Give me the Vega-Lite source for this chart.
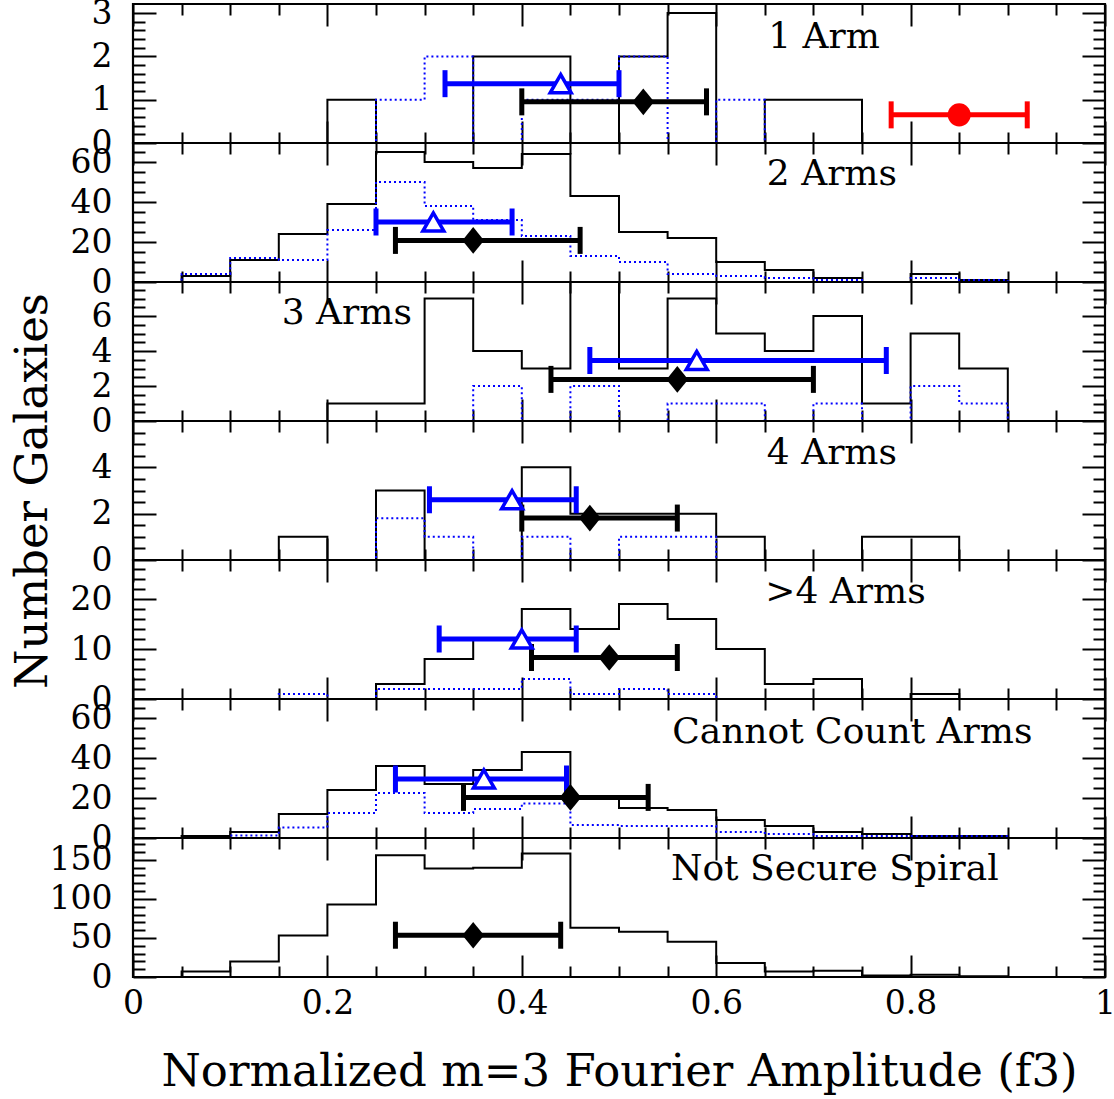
{
"$schema":"https://vega.github.io/schema/vega-lite/v6.json",
"padding":{"left":8,"top":-5,"right":0,"bottom":0},
"background":"white",
"spacing":0,
"bounds":"flush",
"config":{"view":{"stroke":"black","strokeWidth":2.2},"concat":{"spacing":0},
"axis":{"grid":false,"domain":false,"tickColor":"black","tickWidth":2,"labelFont":"DejaVu Serif","labelFontSize":33,"labelColor":"black","labelOverlap":false,"labelBound":false,"labelFlush":false,"titleFont":"DejaVu Serif","titleFontWeight":"normal","titleColor":"black","titleFontSize":45}},
"resolve":{"scale":{"x":"independent","y":"independent"}},
"datasets":{
"hist":[
{"p":1,"x":0,"a":0,"b":0},{"p":1,"x":0.05,"a":0,"b":0},{"p":1,"x":0.1,"a":0,"b":0},{"p":1,"x":0.15,"a":0,"b":0},{"p":1,"x":0.2,"a":1,"b":0},{"p":1,"x":0.25,"a":0,"b":1},{"p":1,"x":0.3,"a":0,"b":2},{"p":1,"x":0.35,"a":2,"b":0},{"p":1,"x":0.4,"a":2,"b":1},{"p":1,"x":0.45,"a":0,"b":1},{"p":1,"x":0.5,"a":2,"b":2},{"p":1,"x":0.55,"a":3,"b":0},{"p":1,"x":0.6,"a":0,"b":1},{"p":1,"x":0.65,"a":1,"b":0},{"p":1,"x":0.7,"a":1,"b":0},{"p":1,"x":0.75,"a":0,"b":0},{"p":1,"x":0.8,"a":0,"b":0},{"p":1,"x":0.85,"a":0,"b":0},{"p":1,"x":0.9,"a":0,"b":0},{"p":1,"x":0.95,"a":0,"b":0},{"p":1,"x":1,"a":0,"b":0},
{"p":2,"x":0,"a":0,"b":0},{"p":2,"x":0.05,"a":3,"b":4},{"p":2,"x":0.1,"a":11,"b":12},{"p":2,"x":0.15,"a":24,"b":11},{"p":2,"x":0.2,"a":39,"b":26},{"p":2,"x":0.25,"a":65,"b":50},{"p":2,"x":0.3,"a":60,"b":38},{"p":2,"x":0.35,"a":57,"b":31},{"p":2,"x":0.4,"a":64,"b":23},{"p":2,"x":0.45,"a":43,"b":13},{"p":2,"x":0.5,"a":25,"b":10},{"p":2,"x":0.55,"a":22,"b":4},{"p":2,"x":0.6,"a":10,"b":3},{"p":2,"x":0.65,"a":6,"b":2},{"p":2,"x":0.7,"a":2,"b":1},{"p":2,"x":0.75,"a":0,"b":0},{"p":2,"x":0.8,"a":4,"b":2},{"p":2,"x":0.85,"a":1,"b":1},{"p":2,"x":0.9,"a":0,"b":0},{"p":2,"x":0.95,"a":0,"b":0},{"p":2,"x":1,"a":0,"b":0},
{"p":3,"x":0,"a":0,"b":0},{"p":3,"x":0.05,"a":0,"b":0},{"p":3,"x":0.1,"a":0,"b":0},{"p":3,"x":0.15,"a":0,"b":0},{"p":3,"x":0.2,"a":1,"b":0},{"p":3,"x":0.25,"a":1,"b":0},{"p":3,"x":0.3,"a":7,"b":0},{"p":3,"x":0.35,"a":4,"b":2},{"p":3,"x":0.4,"a":3,"b":0},{"p":3,"x":0.45,"a":9,"b":2},{"p":3,"x":0.5,"a":3,"b":0},{"p":3,"x":0.55,"a":7,"b":1},{"p":3,"x":0.6,"a":5,"b":1},{"p":3,"x":0.65,"a":4,"b":0},{"p":3,"x":0.7,"a":6,"b":1},{"p":3,"x":0.75,"a":1,"b":0},{"p":3,"x":0.8,"a":5,"b":2},{"p":3,"x":0.85,"a":3,"b":1},{"p":3,"x":0.9,"a":0,"b":0},{"p":3,"x":0.95,"a":0,"b":0},{"p":3,"x":1,"a":0,"b":0},
{"p":4,"x":0,"a":0,"b":0},{"p":4,"x":0.05,"a":0,"b":0},{"p":4,"x":0.1,"a":0,"b":0},{"p":4,"x":0.15,"a":1,"b":0},{"p":4,"x":0.2,"a":0,"b":0},{"p":4,"x":0.25,"a":3,"b":1.8},{"p":4,"x":0.3,"a":0,"b":1},{"p":4,"x":0.35,"a":0,"b":0},{"p":4,"x":0.4,"a":4,"b":1},{"p":4,"x":0.45,"a":2,"b":0},{"p":4,"x":0.5,"a":2,"b":1},{"p":4,"x":0.55,"a":2,"b":1},{"p":4,"x":0.6,"a":1,"b":0},{"p":4,"x":0.65,"a":0,"b":0},{"p":4,"x":0.7,"a":0,"b":0},{"p":4,"x":0.75,"a":1,"b":0},{"p":4,"x":0.8,"a":1,"b":0},{"p":4,"x":0.85,"a":0,"b":0},{"p":4,"x":0.9,"a":0,"b":0},{"p":4,"x":0.95,"a":0,"b":0},{"p":4,"x":1,"a":0,"b":0},
{"p":5,"x":0,"a":0,"b":0},{"p":5,"x":0.05,"a":0,"b":0},{"p":5,"x":0.1,"a":0,"b":0},{"p":5,"x":0.15,"a":0,"b":1},{"p":5,"x":0.2,"a":0,"b":0},{"p":5,"x":0.25,"a":3,"b":2},{"p":5,"x":0.3,"a":8,"b":2},{"p":5,"x":0.35,"a":12,"b":2},{"p":5,"x":0.4,"a":18,"b":4},{"p":5,"x":0.45,"a":14,"b":1},{"p":5,"x":0.5,"a":19,"b":2},{"p":5,"x":0.55,"a":16,"b":1},{"p":5,"x":0.6,"a":10,"b":0},{"p":5,"x":0.65,"a":3,"b":0},{"p":5,"x":0.7,"a":4,"b":0},{"p":5,"x":0.75,"a":0,"b":0},{"p":5,"x":0.8,"a":1,"b":0},{"p":5,"x":0.85,"a":0,"b":0},{"p":5,"x":0.9,"a":0,"b":0},{"p":5,"x":0.95,"a":0,"b":0},{"p":5,"x":1,"a":0,"b":0},
{"p":6,"x":0,"a":0,"b":0},{"p":6,"x":0.05,"a":1,"b":0},{"p":6,"x":0.1,"a":3,"b":1.3},{"p":6,"x":0.15,"a":12,"b":5.3},{"p":6,"x":0.2,"a":24,"b":12.5},{"p":6,"x":0.25,"a":36,"b":22.5},{"p":6,"x":0.3,"a":27,"b":12.5},{"p":6,"x":0.35,"a":34,"b":14.5},{"p":6,"x":0.4,"a":43,"b":17.3},{"p":6,"x":0.45,"a":20,"b":6.5},{"p":6,"x":0.5,"a":15,"b":6},{"p":6,"x":0.55,"a":14,"b":6},{"p":6,"x":0.6,"a":9,"b":3},{"p":6,"x":0.65,"a":6,"b":2},{"p":6,"x":0.7,"a":3,"b":1},{"p":6,"x":0.75,"a":2,"b":1},{"p":6,"x":0.8,"a":1,"b":1},{"p":6,"x":0.85,"a":1,"b":1},{"p":6,"x":0.9,"a":0,"b":0},{"p":6,"x":0.95,"a":0,"b":0},{"p":6,"x":1,"a":0,"b":0},
{"p":7,"x":0,"a":0},{"p":7,"x":0.05,"a":7},{"p":7,"x":0.1,"a":20},{"p":7,"x":0.15,"a":53},{"p":7,"x":0.2,"a":93},{"p":7,"x":0.25,"a":156},{"p":7,"x":0.3,"a":139},{"p":7,"x":0.35,"a":140},{"p":7,"x":0.4,"a":158},{"p":7,"x":0.45,"a":63},{"p":7,"x":0.5,"a":58},{"p":7,"x":0.55,"a":45},{"p":7,"x":0.6,"a":18},{"p":7,"x":0.65,"a":7},{"p":7,"x":0.7,"a":8},{"p":7,"x":0.75,"a":2},{"p":7,"x":0.8,"a":3},{"p":7,"x":0.85,"a":1},{"p":7,"x":0.9,"a":0},{"p":7,"x":0.95,"a":0},{"p":7,"x":1,"a":0}
],
"err":[
{"p":1,"c":"b","y":1.37,"m":0.44,"lo":0.321,"hi":0.5},
{"p":1,"c":"k","y":0.95,"m":0.525,"lo":0.4,"hi":0.59},
{"p":1,"c":"r","y":0.65,"m":0.85,"lo":0.78,"hi":0.92},
{"p":2,"c":"b","y":30,"m":0.309,"lo":0.25,"hi":0.39},
{"p":2,"c":"k","y":20.8,"m":0.35,"lo":0.27,"hi":0.46},
{"p":3,"c":"b","y":3.46,"m":0.58,"lo":0.47,"hi":0.775},
{"p":3,"c":"k","y":2.38,"m":0.56,"lo":0.43,"hi":0.7},
{"p":4,"c":"b","y":2.6,"m":0.39,"lo":0.305,"hi":0.456},
{"p":4,"c":"k","y":1.81,"m":0.47,"lo":0.4,"hi":0.56},
{"p":5,"c":"b","y":12,"m":0.4,"lo":0.315,"hi":0.456},
{"p":5,"c":"k","y":8.3,"m":0.49,"lo":0.41,"hi":0.56},
{"p":6,"c":"b","y":29.5,"m":0.361,"lo":0.27,"hi":0.446},
{"p":6,"c":"k","y":20.3,"m":0.45,"lo":0.34,"hi":0.53},
{"p":7,"c":"k","y":53.5,"m":0.35,"lo":0.27,"hi":0.44}
],
"lab":[
{"p":1,"t":"1 Arm","x":0.711,"y":2.2},
{"p":2,"t":"2 Arms","x":0.719,"y":48.3},
{"p":3,"t":"3 Arms","x":0.22,"y":5.52},
{"p":4,"t":"4 Arms","x":0.719,"y":4.14},
{"p":5,"t":">4 Arms","x":0.733,"y":19.3},
{"p":6,"t":"Cannot Count Arms","x":0.74,"y":47.6},
{"p":7,"t":"Not Secure Spiral","x":0.722,"y":124}
]
},
"vconcat":[
{"width":972,"height":139,"resolve":{"axis":{"x":"independent","y":"independent"}},"layer":[
{"data":{"name":"hist"},"transform":[{"filter":"datum.p==1"}],"mark":{"type":"line","interpolate":"step-after","color":"black","strokeWidth":2,"clip":true},"encoding":{"x":{"field":"x","type":"quantitative","scale":{"domain":[0,1],"nice":false,"zero":false},"axis":{"orient":"bottom","title":null,"labels":false,"values":[0,0.05,0.1,0.15,0.2,0.25,0.3,0.35,0.4,0.45,0.5,0.55,0.6,0.65,0.7,0.75,0.8,0.85,0.9,0.95,1],"tickSize":{"condition":{"test":"abs(datum.value*5-round(datum.value*5))<1e-6","value":-22},"value":-11}}},"y":{"field":"a","type":"quantitative","scale":{"domain":[0,3.21],"nice":false,"zero":false},"axis":{"orient":"left","title":null,"values":[0,0.2,0.4,0.6,0.8,1,1.2,1.4,1.6,1.8,2,2.2,2.4,2.6,2.8,3],"labelPadding":44,"labelExpr":"abs(datum.value-round(datum.value))<1e-6 ? format(datum.value,'~g') : ''","tickSize":{"condition":{"test":"abs(datum.value-round(datum.value))<1e-6","value":-23},"value":-12}}}}},
{"data":{"name":"hist"},"transform":[{"filter":"datum.p==1"}],"mark":{"type":"line","interpolate":"step-after","color":"#0000ff","strokeWidth":2,"strokeDash":[2,3],"clip":true},"encoding":{"x":{"field":"x","type":"quantitative","axis":null},"y":{"field":"b","type":"quantitative","axis":null}}},
{"data":{"name":"err"},"transform":[{"filter":"datum.p==1"}],"mark":{"type":"rule","strokeWidth":5},"encoding":{"x":{"field":"lo","type":"quantitative","axis":{"orient":"top","title":null,"labels":false,"values":[0,0.05,0.1,0.15,0.2,0.25,0.3,0.35,0.4,0.45,0.5,0.55,0.6,0.65,0.7,0.75,0.8,0.85,0.9,0.95,1],"tickSize":{"condition":{"test":"abs(datum.value*5-round(datum.value*5))<1e-6","value":-22},"value":-11}}},"x2":{"field":"hi"},"y":{"field":"y","type":"quantitative","axis":{"orient":"right","title":null,"labels":false,"values":[0,0.2,0.4,0.6,0.8,1,1.2,1.4,1.6,1.8,2,2.2,2.4,2.6,2.8,3],"tickSize":{"condition":{"test":"abs(datum.value-round(datum.value))<1e-6","value":-23},"value":-12}}},"color":{"field":"c","type":"nominal","scale":{"domain":["k","b","r"],"range":["#000000","#0000ff","#ff0000"]},"legend":null}}},
{"data":{"name":"err"},"transform":[{"filter":"datum.p==1"}],"mark":{"type":"tick","orient":"vertical","size":27,"thickness":5,"opacity":1},"encoding":{"x":{"field":"lo","type":"quantitative","axis":null},"y":{"field":"y","type":"quantitative","axis":null},"color":{"field":"c","type":"nominal","scale":{"domain":["k","b","r"],"range":["#000000","#0000ff","#ff0000"]},"legend":null}}},
{"data":{"name":"err"},"transform":[{"filter":"datum.p==1"}],"mark":{"type":"tick","orient":"vertical","size":27,"thickness":5,"opacity":1},"encoding":{"x":{"field":"hi","type":"quantitative","axis":null},"y":{"field":"y","type":"quantitative","axis":null},"color":{"field":"c","type":"nominal","scale":{"domain":["k","b","r"],"range":["#000000","#0000ff","#ff0000"]},"legend":null}}},
{"data":{"name":"err"},"transform":[{"filter":"datum.p==1 && datum.c=='k'"}],"mark":{"type":"point","shape":"M0,-1.23L1,0L0,1.23L-1,0Z","size":470,"filled":true,"color":"black","opacity":1},"encoding":{"x":{"field":"m","type":"quantitative","axis":null},"y":{"field":"y","type":"quantitative","axis":null}}},
{"data":{"name":"err"},"transform":[{"filter":"datum.p==1 && datum.c=='b'"}],"mark":{"type":"point","shape":"triangle-up","size":440,"filled":true,"fill":"white","stroke":"#0000ff","strokeWidth":3.5,"opacity":1},"encoding":{"x":{"field":"m","type":"quantitative","axis":null},"y":{"field":"y","type":"quantitative","axis":null}}},
{"data":{"name":"err"},"transform":[{"filter":"datum.p==1 && datum.c=='r'"}],"mark":{"type":"point","shape":"circle","size":531,"filled":true,"color":"#ff0000","opacity":1},"encoding":{"x":{"field":"m","type":"quantitative","axis":null},"y":{"field":"y","type":"quantitative","axis":null}}},
{"data":{"name":"lab"},"transform":[{"filter":"datum.p==1"}],"mark":{"type":"text","font":"DejaVu Serif","fontSize":36,"align":"center","baseline":"alphabetic","color":"black"},"encoding":{"x":{"field":"x","type":"quantitative","axis":null},"y":{"field":"y","type":"quantitative","axis":null},"text":{"field":"t"}}}
]},
{"width":972,"height":139,"resolve":{"axis":{"x":"independent","y":"independent"}},"layer":[
{"data":{"name":"hist"},"transform":[{"filter":"datum.p==2"}],"mark":{"type":"line","interpolate":"step-after","color":"black","strokeWidth":2,"clip":true},"encoding":{"x":{"field":"x","type":"quantitative","scale":{"domain":[0,1],"nice":false,"zero":false},"axis":{"orient":"bottom","title":null,"labels":false,"values":[0,0.05,0.1,0.15,0.2,0.25,0.3,0.35,0.4,0.45,0.5,0.55,0.6,0.65,0.7,0.75,0.8,0.85,0.9,0.95,1],"tickSize":{"condition":{"test":"abs(datum.value*5-round(datum.value*5))<1e-6","value":-22},"value":-11}}},"y":{"field":"a","type":"quantitative","scale":{"domain":[0,69.5],"nice":false,"zero":false},"axis":{"orient":"left","title":null,"values":[0,5,10,15,20,25,30,35,40,45,50,55,60,65],"labelPadding":44,"labelExpr":"datum.value%20==0 ? format(datum.value,'~g') : ''","tickSize":{"condition":{"test":"datum.value%20==0","value":-23},"value":-12}}}}},
{"data":{"name":"hist"},"transform":[{"filter":"datum.p==2"}],"mark":{"type":"line","interpolate":"step-after","color":"#0000ff","strokeWidth":2,"strokeDash":[2,3],"clip":true},"encoding":{"x":{"field":"x","type":"quantitative","axis":null},"y":{"field":"b","type":"quantitative","axis":null}}},
{"data":{"name":"err"},"transform":[{"filter":"datum.p==2"}],"mark":{"type":"rule","strokeWidth":5},"encoding":{"x":{"field":"lo","type":"quantitative","axis":{"orient":"top","title":null,"labels":false,"values":[0,0.05,0.1,0.15,0.2,0.25,0.3,0.35,0.4,0.45,0.5,0.55,0.6,0.65,0.7,0.75,0.8,0.85,0.9,0.95,1],"tickSize":{"condition":{"test":"abs(datum.value*5-round(datum.value*5))<1e-6","value":-22},"value":-11}}},"x2":{"field":"hi"},"y":{"field":"y","type":"quantitative","axis":{"orient":"right","title":null,"labels":false,"values":[0,5,10,15,20,25,30,35,40,45,50,55,60,65],"tickSize":{"condition":{"test":"datum.value%20==0","value":-23},"value":-12}}},"color":{"field":"c","type":"nominal","scale":{"domain":["k","b","r"],"range":["#000000","#0000ff","#ff0000"]},"legend":null}}},
{"data":{"name":"err"},"transform":[{"filter":"datum.p==2"}],"mark":{"type":"tick","orient":"vertical","size":27,"thickness":5,"opacity":1},"encoding":{"x":{"field":"lo","type":"quantitative","axis":null},"y":{"field":"y","type":"quantitative","axis":null},"color":{"field":"c","type":"nominal","scale":{"domain":["k","b","r"],"range":["#000000","#0000ff","#ff0000"]},"legend":null}}},
{"data":{"name":"err"},"transform":[{"filter":"datum.p==2"}],"mark":{"type":"tick","orient":"vertical","size":27,"thickness":5,"opacity":1},"encoding":{"x":{"field":"hi","type":"quantitative","axis":null},"y":{"field":"y","type":"quantitative","axis":null},"color":{"field":"c","type":"nominal","scale":{"domain":["k","b","r"],"range":["#000000","#0000ff","#ff0000"]},"legend":null}}},
{"data":{"name":"err"},"transform":[{"filter":"datum.p==2 && datum.c=='k'"}],"mark":{"type":"point","shape":"M0,-1.23L1,0L0,1.23L-1,0Z","size":470,"filled":true,"color":"black","opacity":1},"encoding":{"x":{"field":"m","type":"quantitative","axis":null},"y":{"field":"y","type":"quantitative","axis":null}}},
{"data":{"name":"err"},"transform":[{"filter":"datum.p==2 && datum.c=='b'"}],"mark":{"type":"point","shape":"triangle-up","size":440,"filled":true,"fill":"white","stroke":"#0000ff","strokeWidth":3.5,"opacity":1},"encoding":{"x":{"field":"m","type":"quantitative","axis":null},"y":{"field":"y","type":"quantitative","axis":null}}},
{"data":{"name":"lab"},"transform":[{"filter":"datum.p==2"}],"mark":{"type":"text","font":"DejaVu Serif","fontSize":36,"align":"center","baseline":"alphabetic","color":"black"},"encoding":{"x":{"field":"x","type":"quantitative","axis":null},"y":{"field":"y","type":"quantitative","axis":null},"text":{"field":"t"}}}
]},
{"width":972,"height":139,"resolve":{"axis":{"x":"independent","y":"independent"}},"layer":[
{"data":{"name":"hist"},"transform":[{"filter":"datum.p==3"}],"mark":{"type":"line","interpolate":"step-after","color":"black","strokeWidth":2,"clip":true},"encoding":{"x":{"field":"x","type":"quantitative","scale":{"domain":[0,1],"nice":false,"zero":false},"axis":{"orient":"bottom","title":null,"labels":false,"values":[0,0.05,0.1,0.15,0.2,0.25,0.3,0.35,0.4,0.45,0.5,0.55,0.6,0.65,0.7,0.75,0.8,0.85,0.9,0.95,1],"tickSize":{"condition":{"test":"abs(datum.value*5-round(datum.value*5))<1e-6","value":-22},"value":-11}}},"y":{"field":"a","type":"quantitative","scale":{"domain":[0,7.95],"nice":false,"zero":false},"axis":{"orient":"left","title":null,"values":[0,0.5,1,1.5,2,2.5,3,3.5,4,4.5,5,5.5,6,6.5,7,7.5],"labelPadding":44,"labelExpr":"datum.value%2==0 ? format(datum.value,'~g') : ''","tickSize":{"condition":{"test":"datum.value%2==0","value":-23},"value":-12}}}}},
{"data":{"name":"hist"},"transform":[{"filter":"datum.p==3"}],"mark":{"type":"line","interpolate":"step-after","color":"#0000ff","strokeWidth":2,"strokeDash":[2,3],"clip":true},"encoding":{"x":{"field":"x","type":"quantitative","axis":null},"y":{"field":"b","type":"quantitative","axis":null}}},
{"data":{"name":"err"},"transform":[{"filter":"datum.p==3"}],"mark":{"type":"rule","strokeWidth":5},"encoding":{"x":{"field":"lo","type":"quantitative","axis":{"orient":"top","title":null,"labels":false,"values":[0,0.05,0.1,0.15,0.2,0.25,0.3,0.35,0.4,0.45,0.5,0.55,0.6,0.65,0.7,0.75,0.8,0.85,0.9,0.95,1],"tickSize":{"condition":{"test":"abs(datum.value*5-round(datum.value*5))<1e-6","value":-22},"value":-11}}},"x2":{"field":"hi"},"y":{"field":"y","type":"quantitative","axis":{"orient":"right","title":null,"labels":false,"values":[0,0.5,1,1.5,2,2.5,3,3.5,4,4.5,5,5.5,6,6.5,7,7.5],"tickSize":{"condition":{"test":"datum.value%2==0","value":-23},"value":-12}}},"color":{"field":"c","type":"nominal","scale":{"domain":["k","b","r"],"range":["#000000","#0000ff","#ff0000"]},"legend":null}}},
{"data":{"name":"err"},"transform":[{"filter":"datum.p==3"}],"mark":{"type":"tick","orient":"vertical","size":27,"thickness":5,"opacity":1},"encoding":{"x":{"field":"lo","type":"quantitative","axis":null},"y":{"field":"y","type":"quantitative","axis":null},"color":{"field":"c","type":"nominal","scale":{"domain":["k","b","r"],"range":["#000000","#0000ff","#ff0000"]},"legend":null}}},
{"data":{"name":"err"},"transform":[{"filter":"datum.p==3"}],"mark":{"type":"tick","orient":"vertical","size":27,"thickness":5,"opacity":1},"encoding":{"x":{"field":"hi","type":"quantitative","axis":null},"y":{"field":"y","type":"quantitative","axis":null},"color":{"field":"c","type":"nominal","scale":{"domain":["k","b","r"],"range":["#000000","#0000ff","#ff0000"]},"legend":null}}},
{"data":{"name":"err"},"transform":[{"filter":"datum.p==3 && datum.c=='k'"}],"mark":{"type":"point","shape":"M0,-1.23L1,0L0,1.23L-1,0Z","size":470,"filled":true,"color":"black","opacity":1},"encoding":{"x":{"field":"m","type":"quantitative","axis":null},"y":{"field":"y","type":"quantitative","axis":null}}},
{"data":{"name":"err"},"transform":[{"filter":"datum.p==3 && datum.c=='b'"}],"mark":{"type":"point","shape":"triangle-up","size":440,"filled":true,"fill":"white","stroke":"#0000ff","strokeWidth":3.5,"opacity":1},"encoding":{"x":{"field":"m","type":"quantitative","axis":null},"y":{"field":"y","type":"quantitative","axis":null}}},
{"data":{"name":"lab"},"transform":[{"filter":"datum.p==3"}],"mark":{"type":"text","font":"DejaVu Serif","fontSize":36,"align":"center","baseline":"alphabetic","color":"black"},"encoding":{"x":{"field":"x","type":"quantitative","axis":null},"y":{"field":"y","type":"quantitative","axis":null},"text":{"field":"t"}}}
]},
{"width":972,"height":139,"resolve":{"axis":{"x":"independent","y":"independent"}},"layer":[
{"data":{"name":"hist"},"transform":[{"filter":"datum.p==4"}],"mark":{"type":"line","interpolate":"step-after","color":"black","strokeWidth":2,"clip":true},"encoding":{"x":{"field":"x","type":"quantitative","scale":{"domain":[0,1],"nice":false,"zero":false},"axis":{"orient":"bottom","title":null,"labels":false,"values":[0,0.05,0.1,0.15,0.2,0.25,0.3,0.35,0.4,0.45,0.5,0.55,0.6,0.65,0.7,0.75,0.8,0.85,0.9,0.95,1],"tickSize":{"condition":{"test":"abs(datum.value*5-round(datum.value*5))<1e-6","value":-22},"value":-11}}},"y":{"field":"a","type":"quantitative","scale":{"domain":[0,6],"nice":false,"zero":false},"axis":{"orient":"left","title":"Number Galaxies","titleX":-87,"titleY":69.5,"titleAngle":-90,"titleAlign":"center","titleBaseline":"alphabetic","values":[0,0.5,1,1.5,2,2.5,3,3.5,4,4.5,5,5.5],"labelPadding":44,"labelExpr":"datum.value%2==0 ? format(datum.value,'~g') : ''","tickSize":{"condition":{"test":"datum.value%2==0","value":-23},"value":-12}}}}},
{"data":{"name":"hist"},"transform":[{"filter":"datum.p==4"}],"mark":{"type":"line","interpolate":"step-after","color":"#0000ff","strokeWidth":2,"strokeDash":[2,3],"clip":true},"encoding":{"x":{"field":"x","type":"quantitative","axis":null},"y":{"field":"b","type":"quantitative","axis":null}}},
{"data":{"name":"err"},"transform":[{"filter":"datum.p==4"}],"mark":{"type":"rule","strokeWidth":5},"encoding":{"x":{"field":"lo","type":"quantitative","axis":{"orient":"top","title":null,"labels":false,"values":[0,0.05,0.1,0.15,0.2,0.25,0.3,0.35,0.4,0.45,0.5,0.55,0.6,0.65,0.7,0.75,0.8,0.85,0.9,0.95,1],"tickSize":{"condition":{"test":"abs(datum.value*5-round(datum.value*5))<1e-6","value":-22},"value":-11}}},"x2":{"field":"hi"},"y":{"field":"y","type":"quantitative","axis":{"orient":"right","title":null,"labels":false,"values":[0,0.5,1,1.5,2,2.5,3,3.5,4,4.5,5,5.5],"tickSize":{"condition":{"test":"datum.value%2==0","value":-23},"value":-12}}},"color":{"field":"c","type":"nominal","scale":{"domain":["k","b","r"],"range":["#000000","#0000ff","#ff0000"]},"legend":null}}},
{"data":{"name":"err"},"transform":[{"filter":"datum.p==4"}],"mark":{"type":"tick","orient":"vertical","size":27,"thickness":5,"opacity":1},"encoding":{"x":{"field":"lo","type":"quantitative","axis":null},"y":{"field":"y","type":"quantitative","axis":null},"color":{"field":"c","type":"nominal","scale":{"domain":["k","b","r"],"range":["#000000","#0000ff","#ff0000"]},"legend":null}}},
{"data":{"name":"err"},"transform":[{"filter":"datum.p==4"}],"mark":{"type":"tick","orient":"vertical","size":27,"thickness":5,"opacity":1},"encoding":{"x":{"field":"hi","type":"quantitative","axis":null},"y":{"field":"y","type":"quantitative","axis":null},"color":{"field":"c","type":"nominal","scale":{"domain":["k","b","r"],"range":["#000000","#0000ff","#ff0000"]},"legend":null}}},
{"data":{"name":"err"},"transform":[{"filter":"datum.p==4 && datum.c=='k'"}],"mark":{"type":"point","shape":"M0,-1.23L1,0L0,1.23L-1,0Z","size":470,"filled":true,"color":"black","opacity":1},"encoding":{"x":{"field":"m","type":"quantitative","axis":null},"y":{"field":"y","type":"quantitative","axis":null}}},
{"data":{"name":"err"},"transform":[{"filter":"datum.p==4 && datum.c=='b'"}],"mark":{"type":"point","shape":"triangle-up","size":440,"filled":true,"fill":"white","stroke":"#0000ff","strokeWidth":3.5,"opacity":1},"encoding":{"x":{"field":"m","type":"quantitative","axis":null},"y":{"field":"y","type":"quantitative","axis":null}}},
{"data":{"name":"lab"},"transform":[{"filter":"datum.p==4"}],"mark":{"type":"text","font":"DejaVu Serif","fontSize":36,"align":"center","baseline":"alphabetic","color":"black"},"encoding":{"x":{"field":"x","type":"quantitative","axis":null},"y":{"field":"y","type":"quantitative","axis":null},"text":{"field":"t"}}}
]},
{"width":972,"height":139,"resolve":{"axis":{"x":"independent","y":"independent"}},"layer":[
{"data":{"name":"hist"},"transform":[{"filter":"datum.p==5"}],"mark":{"type":"line","interpolate":"step-after","color":"black","strokeWidth":2,"clip":true},"encoding":{"x":{"field":"x","type":"quantitative","scale":{"domain":[0,1],"nice":false,"zero":false},"axis":{"orient":"bottom","title":null,"labels":false,"values":[0,0.05,0.1,0.15,0.2,0.25,0.3,0.35,0.4,0.45,0.5,0.55,0.6,0.65,0.7,0.75,0.8,0.85,0.9,0.95,1],"tickSize":{"condition":{"test":"abs(datum.value*5-round(datum.value*5))<1e-6","value":-22},"value":-11}}},"y":{"field":"a","type":"quantitative","scale":{"domain":[0,27.8],"nice":false,"zero":false},"axis":{"orient":"left","title":null,"values":[0,2,4,6,8,10,12,14,16,18,20,22,24,26],"labelPadding":44,"labelExpr":"datum.value%10==0 ? format(datum.value,'~g') : ''","tickSize":{"condition":{"test":"datum.value%10==0","value":-23},"value":-12}}}}},
{"data":{"name":"hist"},"transform":[{"filter":"datum.p==5"}],"mark":{"type":"line","interpolate":"step-after","color":"#0000ff","strokeWidth":2,"strokeDash":[2,3],"clip":true},"encoding":{"x":{"field":"x","type":"quantitative","axis":null},"y":{"field":"b","type":"quantitative","axis":null}}},
{"data":{"name":"err"},"transform":[{"filter":"datum.p==5"}],"mark":{"type":"rule","strokeWidth":5},"encoding":{"x":{"field":"lo","type":"quantitative","axis":{"orient":"top","title":null,"labels":false,"values":[0,0.05,0.1,0.15,0.2,0.25,0.3,0.35,0.4,0.45,0.5,0.55,0.6,0.65,0.7,0.75,0.8,0.85,0.9,0.95,1],"tickSize":{"condition":{"test":"abs(datum.value*5-round(datum.value*5))<1e-6","value":-22},"value":-11}}},"x2":{"field":"hi"},"y":{"field":"y","type":"quantitative","axis":{"orient":"right","title":null,"labels":false,"values":[0,2,4,6,8,10,12,14,16,18,20,22,24,26],"tickSize":{"condition":{"test":"datum.value%10==0","value":-23},"value":-12}}},"color":{"field":"c","type":"nominal","scale":{"domain":["k","b","r"],"range":["#000000","#0000ff","#ff0000"]},"legend":null}}},
{"data":{"name":"err"},"transform":[{"filter":"datum.p==5"}],"mark":{"type":"tick","orient":"vertical","size":27,"thickness":5,"opacity":1},"encoding":{"x":{"field":"lo","type":"quantitative","axis":null},"y":{"field":"y","type":"quantitative","axis":null},"color":{"field":"c","type":"nominal","scale":{"domain":["k","b","r"],"range":["#000000","#0000ff","#ff0000"]},"legend":null}}},
{"data":{"name":"err"},"transform":[{"filter":"datum.p==5"}],"mark":{"type":"tick","orient":"vertical","size":27,"thickness":5,"opacity":1},"encoding":{"x":{"field":"hi","type":"quantitative","axis":null},"y":{"field":"y","type":"quantitative","axis":null},"color":{"field":"c","type":"nominal","scale":{"domain":["k","b","r"],"range":["#000000","#0000ff","#ff0000"]},"legend":null}}},
{"data":{"name":"err"},"transform":[{"filter":"datum.p==5 && datum.c=='k'"}],"mark":{"type":"point","shape":"M0,-1.23L1,0L0,1.23L-1,0Z","size":470,"filled":true,"color":"black","opacity":1},"encoding":{"x":{"field":"m","type":"quantitative","axis":null},"y":{"field":"y","type":"quantitative","axis":null}}},
{"data":{"name":"err"},"transform":[{"filter":"datum.p==5 && datum.c=='b'"}],"mark":{"type":"point","shape":"triangle-up","size":440,"filled":true,"fill":"white","stroke":"#0000ff","strokeWidth":3.5,"opacity":1},"encoding":{"x":{"field":"m","type":"quantitative","axis":null},"y":{"field":"y","type":"quantitative","axis":null}}},
{"data":{"name":"lab"},"transform":[{"filter":"datum.p==5"}],"mark":{"type":"text","font":"DejaVu Serif","fontSize":36,"align":"center","baseline":"alphabetic","color":"black"},"encoding":{"x":{"field":"x","type":"quantitative","axis":null},"y":{"field":"y","type":"quantitative","axis":null},"text":{"field":"t"}}}
]},
{"width":972,"height":139,"resolve":{"axis":{"x":"independent","y":"independent"}},"layer":[
{"data":{"name":"hist"},"transform":[{"filter":"datum.p==6"}],"mark":{"type":"line","interpolate":"step-after","color":"black","strokeWidth":2,"clip":true},"encoding":{"x":{"field":"x","type":"quantitative","scale":{"domain":[0,1],"nice":false,"zero":false},"axis":{"orient":"bottom","title":null,"labels":false,"values":[0,0.05,0.1,0.15,0.2,0.25,0.3,0.35,0.4,0.45,0.5,0.55,0.6,0.65,0.7,0.75,0.8,0.85,0.9,0.95,1],"tickSize":{"condition":{"test":"abs(datum.value*5-round(datum.value*5))<1e-6","value":-22},"value":-11}}},"y":{"field":"a","type":"quantitative","scale":{"domain":[0,69.5],"nice":false,"zero":false},"axis":{"orient":"left","title":null,"values":[0,5,10,15,20,25,30,35,40,45,50,55,60,65],"labelPadding":44,"labelExpr":"datum.value%20==0 ? format(datum.value,'~g') : ''","tickSize":{"condition":{"test":"datum.value%20==0","value":-23},"value":-12}}}}},
{"data":{"name":"hist"},"transform":[{"filter":"datum.p==6"}],"mark":{"type":"line","interpolate":"step-after","color":"#0000ff","strokeWidth":2,"strokeDash":[2,3],"clip":true},"encoding":{"x":{"field":"x","type":"quantitative","axis":null},"y":{"field":"b","type":"quantitative","axis":null}}},
{"data":{"name":"err"},"transform":[{"filter":"datum.p==6"}],"mark":{"type":"rule","strokeWidth":5},"encoding":{"x":{"field":"lo","type":"quantitative","axis":{"orient":"top","title":null,"labels":false,"values":[0,0.05,0.1,0.15,0.2,0.25,0.3,0.35,0.4,0.45,0.5,0.55,0.6,0.65,0.7,0.75,0.8,0.85,0.9,0.95,1],"tickSize":{"condition":{"test":"abs(datum.value*5-round(datum.value*5))<1e-6","value":-22},"value":-11}}},"x2":{"field":"hi"},"y":{"field":"y","type":"quantitative","axis":{"orient":"right","title":null,"labels":false,"values":[0,5,10,15,20,25,30,35,40,45,50,55,60,65],"tickSize":{"condition":{"test":"datum.value%20==0","value":-23},"value":-12}}},"color":{"field":"c","type":"nominal","scale":{"domain":["k","b","r"],"range":["#000000","#0000ff","#ff0000"]},"legend":null}}},
{"data":{"name":"err"},"transform":[{"filter":"datum.p==6"}],"mark":{"type":"tick","orient":"vertical","size":27,"thickness":5,"opacity":1},"encoding":{"x":{"field":"lo","type":"quantitative","axis":null},"y":{"field":"y","type":"quantitative","axis":null},"color":{"field":"c","type":"nominal","scale":{"domain":["k","b","r"],"range":["#000000","#0000ff","#ff0000"]},"legend":null}}},
{"data":{"name":"err"},"transform":[{"filter":"datum.p==6"}],"mark":{"type":"tick","orient":"vertical","size":27,"thickness":5,"opacity":1},"encoding":{"x":{"field":"hi","type":"quantitative","axis":null},"y":{"field":"y","type":"quantitative","axis":null},"color":{"field":"c","type":"nominal","scale":{"domain":["k","b","r"],"range":["#000000","#0000ff","#ff0000"]},"legend":null}}},
{"data":{"name":"err"},"transform":[{"filter":"datum.p==6 && datum.c=='k'"}],"mark":{"type":"point","shape":"M0,-1.23L1,0L0,1.23L-1,0Z","size":470,"filled":true,"color":"black","opacity":1},"encoding":{"x":{"field":"m","type":"quantitative","axis":null},"y":{"field":"y","type":"quantitative","axis":null}}},
{"data":{"name":"err"},"transform":[{"filter":"datum.p==6 && datum.c=='b'"}],"mark":{"type":"point","shape":"triangle-up","size":440,"filled":true,"fill":"white","stroke":"#0000ff","strokeWidth":3.5,"opacity":1},"encoding":{"x":{"field":"m","type":"quantitative","axis":null},"y":{"field":"y","type":"quantitative","axis":null}}},
{"data":{"name":"lab"},"transform":[{"filter":"datum.p==6"}],"mark":{"type":"text","font":"DejaVu Serif","fontSize":36,"align":"center","baseline":"alphabetic","color":"black"},"encoding":{"x":{"field":"x","type":"quantitative","axis":null},"y":{"field":"y","type":"quantitative","axis":null},"text":{"field":"t"}}}
]},
{"width":972,"height":139,"resolve":{"axis":{"x":"independent","y":"independent"}},"layer":[
{"data":{"name":"hist"},"transform":[{"filter":"datum.p==7"}],"mark":{"type":"line","interpolate":"step-after","color":"black","strokeWidth":2,"clip":true},"encoding":{"x":{"field":"x","type":"quantitative","scale":{"domain":[0,1],"nice":false,"zero":false},"axis":{"orient":"bottom","title":"Normalized m=3 Fourier Amplitude (f3)","titleX":486,"titleY":108,"titleAlign":"center","titleBaseline":"alphabetic","labelPadding":32,"labelBaseline":"top","labelExpr":"abs(datum.value*5-round(datum.value*5))<1e-6 ? format(datum.value,'~g') : ''","values":[0,0.05,0.1,0.15,0.2,0.25,0.3,0.35,0.4,0.45,0.5,0.55,0.6,0.65,0.7,0.75,0.8,0.85,0.9,0.95,1],"tickSize":{"condition":{"test":"abs(datum.value*5-round(datum.value*5))<1e-6","value":-22},"value":-11}}},"y":{"field":"a","type":"quantitative","scale":{"domain":[0,178],"nice":false,"zero":false},"axis":{"orient":"left","title":null,"values":[0,10,20,30,40,50,60,70,80,90,100,110,120,130,140,150,160,170],"labelPadding":44,"labelExpr":"datum.value%50==0 ? format(datum.value,'~g') : ''","tickSize":{"condition":{"test":"datum.value%50==0","value":-23},"value":-12}}}}},
{"data":{"name":"err"},"transform":[{"filter":"datum.p==7"}],"mark":{"type":"rule","strokeWidth":5},"encoding":{"x":{"field":"lo","type":"quantitative","axis":{"orient":"top","title":null,"labels":false,"values":[0,0.05,0.1,0.15,0.2,0.25,0.3,0.35,0.4,0.45,0.5,0.55,0.6,0.65,0.7,0.75,0.8,0.85,0.9,0.95,1],"tickSize":{"condition":{"test":"abs(datum.value*5-round(datum.value*5))<1e-6","value":-22},"value":-11}}},"x2":{"field":"hi"},"y":{"field":"y","type":"quantitative","axis":{"orient":"right","title":null,"labels":false,"values":[0,10,20,30,40,50,60,70,80,90,100,110,120,130,140,150,160,170],"tickSize":{"condition":{"test":"datum.value%50==0","value":-23},"value":-12}}},"color":{"field":"c","type":"nominal","scale":{"domain":["k","b","r"],"range":["#000000","#0000ff","#ff0000"]},"legend":null}}},
{"data":{"name":"err"},"transform":[{"filter":"datum.p==7"}],"mark":{"type":"tick","orient":"vertical","size":27,"thickness":5,"opacity":1},"encoding":{"x":{"field":"lo","type":"quantitative","axis":null},"y":{"field":"y","type":"quantitative","axis":null},"color":{"field":"c","type":"nominal","scale":{"domain":["k","b","r"],"range":["#000000","#0000ff","#ff0000"]},"legend":null}}},
{"data":{"name":"err"},"transform":[{"filter":"datum.p==7"}],"mark":{"type":"tick","orient":"vertical","size":27,"thickness":5,"opacity":1},"encoding":{"x":{"field":"hi","type":"quantitative","axis":null},"y":{"field":"y","type":"quantitative","axis":null},"color":{"field":"c","type":"nominal","scale":{"domain":["k","b","r"],"range":["#000000","#0000ff","#ff0000"]},"legend":null}}},
{"data":{"name":"err"},"transform":[{"filter":"datum.p==7 && datum.c=='k'"}],"mark":{"type":"point","shape":"M0,-1.23L1,0L0,1.23L-1,0Z","size":470,"filled":true,"color":"black","opacity":1},"encoding":{"x":{"field":"m","type":"quantitative","axis":null},"y":{"field":"y","type":"quantitative","axis":null}}},
{"data":{"name":"lab"},"transform":[{"filter":"datum.p==7"}],"mark":{"type":"text","font":"DejaVu Serif","fontSize":36,"align":"center","baseline":"alphabetic","color":"black"},"encoding":{"x":{"field":"x","type":"quantitative","axis":null},"y":{"field":"y","type":"quantitative","axis":null},"text":{"field":"t"}}}
]}
]
}
